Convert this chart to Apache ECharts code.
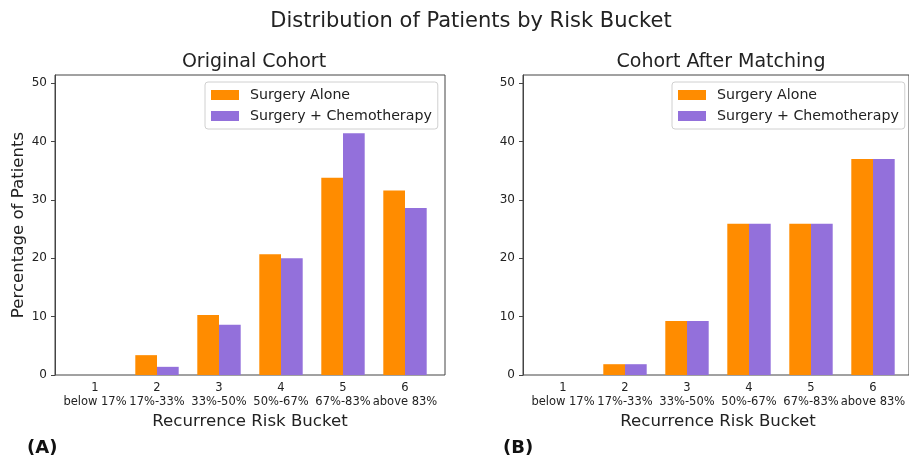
<!DOCTYPE html>
<html>
<head>
<meta charset="utf-8">
<script src="https://cdn.jsdelivr.net/npm/echarts@6/dist/echarts.min.js"></script>
<style>
  html, body { margin: 0; padding: 0; background: #fff; }
  #main { width: 909px; height: 459px; }
</style>
</head>
<body>
<div id="main"></div>
<script>
//== data
var buckets = ['1', '2', '3', '4', '5', '6'];
var bucketRanges = ['below 17%', '17%-33%', '33%-50%', '50%-67%', '67%-83%', 'above 83%'];
var yTicks = [0, 10, 20, 30, 40, 50];

var originalAlone = [0, 3.4, 10.3, 20.7, 33.8, 31.6];
var originalChemo = [0, 1.4, 8.6, 20.0, 41.4, 28.6];
var matchedAlone = [0, 1.85, 9.26, 25.9, 25.9, 37.0];
var matchedChemo = [0, 1.85, 9.26, 25.9, 25.9, 37.0];

var FONT = 'DejaVu Sans';
var ORANGE = '#ff8c00';
var PURPLE = '#9370db';

var chartPanels = function () {
    var makeX = function (gridIndex) {
        return {
            type: 'category',
            gridIndex: gridIndex,
            data: buckets,
            name: 'Recurrence Risk Bucket',
            nameLocation: 'middle',
            nameGap: 38,
            nameTextStyle: { fontFamily: FONT, fontSize: 16.6, color: '#222' },
            axisLine: { show: false },
            axisTick: { alignWithLabel: true, length: 4, lineStyle: { color: '#444' } },
            axisLabel: {
                interval: 0,
                margin: 6,
                formatter: function (v, i) {
                    return '{a|' + v + '}\n{a|' + bucketRanges[i] + '}';
                },
                rich: { a: { fontFamily: FONT, fontSize: 11.5, color: '#222', lineHeight: 14 } }
            }
        };
    };
    var makeY = function (gridIndex, withName) {
        return {
            type: 'value',
            gridIndex: gridIndex,
            min: 0,
            max: 51.4,
            offset: 9,
            name: withName ? 'Percentage of Patients' : '',
            nameLocation: 'middle',
            nameGap: 28,
            nameTextStyle: { fontFamily: FONT, fontSize: 16.6, color: '#222' },
            splitLine: { show: false },
            axisLine: { show: true, lineStyle: { color: '#444' } },
            axisTick: { show: true, length: 4, customValues: yTicks, lineStyle: { color: '#444' } },
            axisLabel: { customValues: yTicks, fontFamily: FONT, fontSize: 12, color: '#222', margin: 8 }
        };
    };
    var frameAxis = function (gridIndex) {
        return { type: 'value', gridIndex: gridIndex, show: false, min: 0, max: 1 };
    };
    var barSeries = function (name, data, color, idx) {
        return {
            name: name,
            type: 'bar',
            xAxisIndex: idx,
            yAxisIndex: idx,
            data: data,
            barWidth: 21.7,
            barGap: '0%',
            itemStyle: { color: color, borderWidth: 0 }
        };
    };
    var legendFor = function (left) {
        return {
            orient: 'vertical',
            left: left,
            top: 82,
            icon: 'rect',
            itemWidth: 28,
            itemHeight: 10,
            itemGap: 7,
            padding: [6, 6, 6, 6],
            borderColor: '#d0d0d0',
            borderWidth: 1,
            borderRadius: 3,
            backgroundColor: '#fff',
            textStyle: { fontFamily: FONT, fontSize: 14.2, color: '#222', padding: [0, 0, 0, 6] },
            data: ['Surgery Alone', 'Surgery + Chemotherapy']
        };
    };
    return {
        init: function () {
            var chart = echarts.init(document.getElementById('main'), null, { renderer: 'canvas' });
            var option = {
                backgroundColor: '#fff',
                animation: false,
                title: [
                    { text: 'Distribution of Patients by Risk Bucket', left: 466, top: 6, textAlign: 'center',
                      textStyle: { fontFamily: FONT, fontSize: 21, fontWeight: 'normal', color: '#222' } },
                    { text: 'Original Cohort', left: 249, top: 48, textAlign: 'center',
                      textStyle: { fontFamily: FONT, fontSize: 19, fontWeight: 'normal', color: '#222' } },
                    { text: 'Cohort After Matching', left: 716, top: 48, textAlign: 'center',
                      textStyle: { fontFamily: FONT, fontSize: 19, fontWeight: 'normal', color: '#222' } },
                    { text: '(A)', left: 22, top: 434,
                      textStyle: { fontFamily: FONT, fontSize: 18, fontWeight: 'bold', color: '#111' } },
                    { text: '(B)', left: 498, top: 434,
                      textStyle: { fontFamily: FONT, fontSize: 18, fontWeight: 'bold', color: '#111' } }
                ],
                legend: [legendFor(205), legendFor(672)],
                grid: [
                    { left: 64, top: 75, width: 372, height: 300 },
                    { left: 532, top: 75, width: 372, height: 300 },
                    { left: 55, top: 75, width: 390, height: 300, show: true, borderColor: '#444', borderWidth: 1, backgroundColor: 'transparent' },
                    { left: 523, top: 75, width: 390, height: 300, show: true, borderColor: '#444', borderWidth: 1, backgroundColor: 'transparent' }
                ],
                xAxis: [makeX(0), makeX(1), frameAxis(2), frameAxis(3)],
                yAxis: [makeY(0, true), makeY(1, false), frameAxis(2), frameAxis(3)],
                series: [
                    barSeries('Surgery Alone', originalAlone, ORANGE, 0),
                    barSeries('Surgery + Chemotherapy', originalChemo, PURPLE, 0),
                    barSeries('Surgery Alone', matchedAlone, ORANGE, 1),
                    barSeries('Surgery + Chemotherapy', matchedChemo, PURPLE, 1)
                ]
            };
            chart.setOption(option, true);
        }
    };
}();

chartPanels.init();
</script>
</body>
</html>
